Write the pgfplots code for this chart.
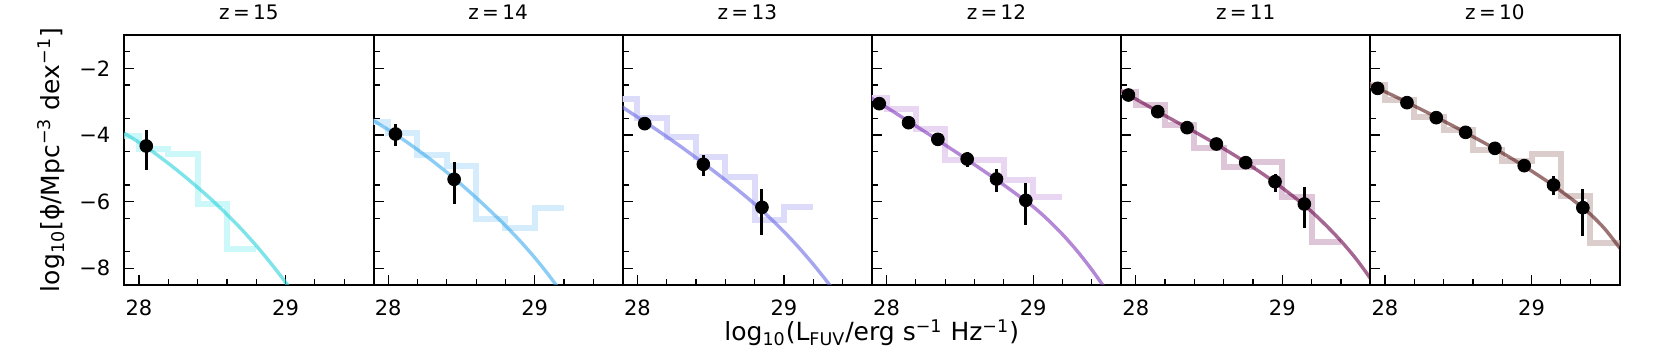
\documentclass[border=0pt]{standalone}
\usepackage{fontspec}
\setmainfont{DejaVu Sans}
\usepackage{pgfplots}
\pgfplotsset{compat=1.18}

% curve colours (drawn at 60% opacity) and histogram colours
\definecolor{c15}{RGB}{40,210,218}
\definecolor{c14}{RGB}{63,172,238}
\definecolor{c13}{RGB}{105,105,230}
\definecolor{c12}{RGB}{130,55,188}
\definecolor{c11}{RGB}{105,0,72}
\definecolor{c10}{RGB}{88,22,22}
\definecolor{s15}{RGB}{205,248,250}
\definecolor{s14}{RGB}{213,236,252}
\definecolor{s13}{RGB}{220,220,250}
\definecolor{s12}{RGB}{232,214,243}
\definecolor{s11}{RGB}{222,198,216}
\definecolor{s10}{RGB}{220,205,205}

\pgfplotsset{
  panel/.style={
    scale only axis, width=124.6pt, height=125pt, anchor=south west,
    xmin=27.9, xmax=29.6, ymin=-8.5, ymax=-1,
    xtick={28,29}, xticklabels={28,29},
    minor xtick={27.8,28.2,28.4,28.6,28.8,29.2,29.4},
    ytick={-8,-6,-4,-2}, yticklabels={},
    minor ytick={-8.5,-7.5,-6.5,-5.5,-4.5,-3.5,-2.5,-1.5},
    tick align=inside, tick pos=left,
    major tick length=5pt, minor tick length=3pt,
    every tick/.style={black, line width=0.6pt},
    axis line style={line width=1pt},
    tick label style={font=\fontsize{10.5}{12}\selectfont},
    xticklabel style={yshift=-4pt},
    yticklabel style={xshift=-3.5pt},
    title style={font=\fontsize{10}{12}\selectfont, yshift=-2pt},
  },
  hist/.style={const plot, line width=3pt, #1},
  fit/.style={smooth, line width=1.7pt, #1, opacity=0.6},
  pts/.style={only marks, mark=*, mark size=3.2pt, black,
    error bars/.cd, y dir=both, y explicit, error mark=none,
    error bar style={line width=1.5pt, black}},
}

\begin{document}
\begin{tikzpicture}
\path[use as bounding box] (-62.15pt,-35.5pt) rectangle (768.35pt,142.5pt);

% z = 15
\begin{axis}[panel, at={(0pt,0pt)}, title={z\,=\,15}, yticklabels={−8,−6,−4,−2}]
\addplot[hist=s15] coordinates {(27.8,-4.04)(28.0,-4.42)(28.2,-4.57)(28.4,-6.07)(28.6,-7.43)(28.8,-7.43)};
\addplot[pts] coordinates {(28.05,-4.33) += (0,0.48) -= (0,0.72)};
\addplot[fit=c15] coordinates {(27.8,-3.70)(27.9,-3.95)(28.0,-4.22)(28.1,-4.52)(28.2,-4.85)(28.3,-5.20)(28.4,-5.57)(28.5,-5.96)(28.6,-6.38)(28.7,-6.83)(28.8,-7.32)(28.9,-7.85)(29.0,-8.42)(29.1,-9.05)};
\end{axis}

% z = 14
\begin{axis}[panel, at={(124.6pt,0pt)}, title={z\,=\,14}]
\addplot[hist=s14] coordinates {(27.8,-3.6)(28.0,-3.95)(28.2,-4.6)(28.4,-4.92)(28.6,-6.52)(28.8,-6.8)(29.0,-6.2)(29.2,-6.2)};
\addplot[pts] coordinates {
  (28.05,-3.97) += (0,0.30) -= (0,0.35)
  (28.45,-5.33) += (0,0.51) -= (0,0.74)};
\addplot[fit=c14] coordinates {(27.8,-3.30)(27.9,-3.57)(28.0,-3.84)(28.1,-4.13)(28.2,-4.44)(28.3,-4.77)(28.4,-5.12)(28.5,-5.49)(28.6,-5.88)(28.7,-6.29)(28.8,-6.72)(28.9,-7.18)(29.0,-7.68)(29.1,-8.23)(29.2,-8.83)};
\end{axis}

% z = 13
\begin{axis}[panel, at={(249.2pt,0pt)}, title={z\,=\,13}]
\addplot[hist=s13] coordinates {(27.8,-2.92)(28.0,-3.5)(28.2,-4.07)(28.4,-4.67)(28.6,-5.27)(28.8,-6.55)(29.0,-6.15)(29.2,-6.15)};
\addplot[pts] coordinates {
  (28.05,-3.66) += (0,0.05) -= (0,0.05)
  (28.45,-4.88) += (0,0.28) -= (0,0.34)
  (28.85,-6.17) += (0,0.55) -= (0,0.83)};
\addplot[fit=c13] coordinates {(27.8,-2.87)(27.9,-3.17)(28.0,-3.46)(28.1,-3.75)(28.2,-4.05)(28.3,-4.36)(28.4,-4.68)(28.5,-5.01)(28.6,-5.35)(28.7,-5.70)(28.8,-6.07)(28.9,-6.47)(29.0,-6.90)(29.1,-7.37)(29.2,-7.88)(29.3,-8.43)(29.4,-9.02)};
\end{axis}

% z = 12
\begin{axis}[panel, at={(373.8pt,0pt)}, title={z\,=\,12}]
\addplot[hist=s12] coordinates {(27.8,-2.9)(28.0,-3.23)(28.2,-3.82)(28.4,-4.75)(28.6,-4.75)(28.8,-5.35)(29.0,-5.85)(29.2,-5.85)};
\addplot[pts] coordinates {
  (27.95,-3.06) += (0,0.03) -= (0,0.03)
  (28.15,-3.63) += (0,0.05) -= (0,0.05)
  (28.35,-4.13) += (0,0.08) -= (0,0.08)
  (28.55,-4.72) += (0,0.22) -= (0,0.23)
  (28.75,-5.32) += (0,0.30) -= (0,0.38)
  (28.95,-5.96) += (0,0.51) -= (0,0.74)};
\addplot[fit=c12] coordinates {(27.8,-2.63)(27.9,-2.90)(28.0,-3.17)(28.1,-3.45)(28.2,-3.73)(28.3,-4.01)(28.4,-4.30)(28.5,-4.59)(28.6,-4.89)(28.7,-5.19)(28.8,-5.50)(28.9,-5.82)(29.0,-6.15)(29.1,-6.54)(29.2,-6.98)(29.3,-7.48)(29.4,-8.04)(29.5,-8.66)};
\end{axis}

% z = 11
\begin{axis}[panel, at={(498.4pt,0pt)}, title={z\,=\,11}]
\addplot[hist=s11] coordinates {(27.8,-2.7)(28.0,-3.1)(28.2,-3.7)(28.4,-4.4)(28.6,-4.95)(28.8,-4.8)(29.0,-5.85)(29.2,-7.2)(29.4,-7.2)};
\addplot[pts] coordinates {
  (27.95,-2.80) += (0,0.02) -= (0,0.02)
  (28.15,-3.30) += (0,0.03) -= (0,0.03)
  (28.35,-3.78) += (0,0.04) -= (0,0.04)
  (28.55,-4.27) += (0,0.06) -= (0,0.06)
  (28.75,-4.83) += (0,0.10) -= (0,0.10)
  (28.95,-5.40) += (0,0.23) -= (0,0.30)
  (29.15,-6.07) += (0,0.52) -= (0,0.73)};
\addplot[fit=c11] coordinates {(27.8,-2.44)(27.9,-2.68)(28.0,-2.92)(28.1,-3.17)(28.2,-3.42)(28.3,-3.66)(28.4,-3.90)(28.5,-4.15)(28.6,-4.41)(28.7,-4.68)(28.8,-4.97)(28.9,-5.27)(29.0,-5.59)(29.1,-5.93)(29.2,-6.30)(29.3,-6.72)(29.4,-7.18)(29.5,-7.70)(29.6,-8.30)(29.7,-8.95)};
\end{axis}

% z = 10
\begin{axis}[panel, at={(623.0pt,0pt)}, title={z\,=\,10}]
\addplot[hist=s10] coordinates {(27.8,-2.5)(28.0,-2.95)(28.2,-3.45)(28.4,-3.85)(28.6,-4.45)(28.8,-4.78)(29.0,-4.57)(29.2,-5.83)(29.4,-7.25)(29.6,-7.25)};
\addplot[pts] coordinates {
  (27.95,-2.60) += (0,0.02) -= (0,0.02)
  (28.15,-3.03) += (0,0.02) -= (0,0.02)
  (28.35,-3.48) += (0,0.03) -= (0,0.03)
  (28.55,-3.92) += (0,0.05) -= (0,0.05)
  (28.75,-4.40) += (0,0.07) -= (0,0.07)
  (28.95,-4.92) += (0,0.10) -= (0,0.10)
  (29.15,-5.50) += (0,0.27) -= (0,0.30)
  (29.35,-6.18) += (0,0.56) -= (0,0.84)};
\addplot[fit=c10] coordinates {(27.8,-2.30)(27.9,-2.50)(28.0,-2.70)(28.1,-2.91)(28.2,-3.13)(28.3,-3.35)(28.4,-3.58)(28.5,-3.81)(28.6,-4.05)(28.7,-4.29)(28.8,-4.54)(28.9,-4.80)(29.0,-5.08)(29.1,-5.37)(29.2,-5.68)(29.3,-6.01)(29.4,-6.37)(29.5,-6.82)(29.6,-7.38)(29.7,-7.95)};
\end{axis}

\node[rotate=90, anchor=base, font=\fontsize{12.5}{14}\selectfont] at (-32.5pt,62.5pt)
  {log\textsubscript{10}[ϕ/Mpc\textsuperscript{−3} dex\textsuperscript{−1}]};
\node[anchor=base, font=\fontsize{12.5}{14}\selectfont] at (373.7pt,-28pt)
  {log\textsubscript{10}(L\textsubscript{FUV}/erg s\textsuperscript{−1} Hz\textsuperscript{−1})};
\end{tikzpicture}
\end{document}
